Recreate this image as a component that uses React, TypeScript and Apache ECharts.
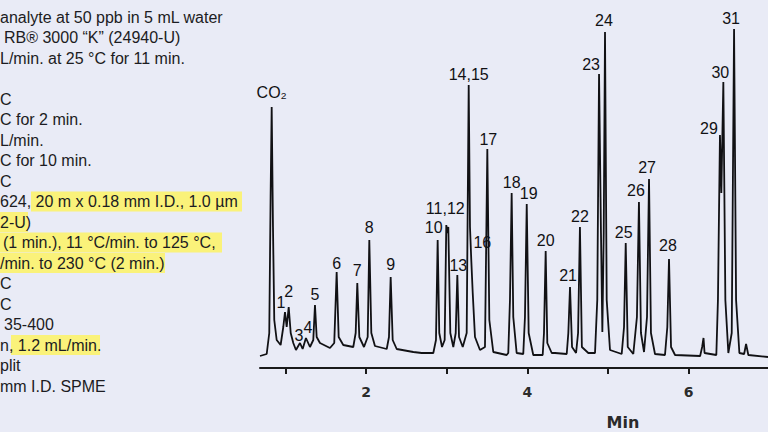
import React, { useEffect, useRef } from "react";
import * as echarts from "echarts";

// ---- Data (time in min, detector signal in arbitrary units) ----
const traceTimes = [
  0.684, 0.767, 0.799, 0.816, 0.829, 0.845, 0.861, 0.891, 0.94, 0.973, 0.994, 1.015, 1.04, 1.065, 1.097, 1.13,
  1.18, 1.213, 1.254, 1.304, 1.345, 1.366, 1.387, 1.428, 1.552, 1.605, 1.635, 1.66, 1.717, 1.841, 1.871, 1.891,
  1.916, 1.974, 2.02, 2.04, 2.065, 2.11, 2.256, 2.284, 2.305, 2.33, 2.38, 2.586, 2.69, 2.834, 2.867, 2.888,
  2.908, 2.942, 2.975, 2.995, 3.007, 3.02, 3.045, 3.082, 3.112, 3.132, 3.153, 3.199, 3.248, 3.273, 3.289, 3.305,
  3.323, 3.351, 3.413, 3.475, 3.504, 3.529, 3.578, 3.744, 3.764, 3.785, 3.806, 3.826, 3.868, 3.95, 3.971, 3.993,
  4.017, 4.074, 4.191, 4.207, 4.228, 4.248, 4.303, 4.344, 4.489, 4.509, 4.53, 4.555, 4.605, 4.63, 4.653, 4.677,
  4.757, 4.84, 4.868, 4.89, 4.914, 4.931, 4.948, 4.964, 4.985, 5.026, 5.171, 5.2, 5.221, 5.246, 5.315, 5.36,
  5.385, 5.41, 5.448, 5.485, 5.51, 5.534, 5.584, 5.708, 5.737, 5.758, 5.783, 5.833, 6.144, 6.169, 6.186, 6.199,
  6.345, 6.365, 6.39, 6.407, 6.432, 6.457, 6.494, 6.536, 6.565, 6.59, 6.631, 6.69, 6.714, 6.742, 6.986,
];
const traceSignals = [
  12, 14, 35, 175, 261, 141, 48, 28, 23, 41, 56, 41, 61, 35, 25, 18,
  25, 19, 30, 21, 28, 63, 31, 25, 20, 25, 96, 31, 23, 21, 35, 85,
  31, 21, 31, 128, 35, 22, 19, 31, 91, 28, 19, 16, 15, 15, 28, 128,
  35, 21, 28, 143, 135, 141, 35, 21, 35, 93, 31, 21, 35, 283, 141, 108,
  75, 31, 18, 21, 219, 48, 16, 13, 15, 68, 175, 51, 15, 14, 51, 164,
  35, 13, 13, 35, 117, 25, 15, 15, 14, 35, 81, 21, 15, 35, 141, 21,
  15, 15, 68, 294, 135, 36, 135, 336, 68, 18, 14, 41, 125, 21, 14, 51,
  166, 35, 16, 51, 189, 35, 14, 13, 41, 109, 21, 13, 12, 21, 30, 15,
  13, 68, 233, 175, 286, 68, 15, 35, 339, 68, 15, 14, 24, 13, 11,
];

const peakNames = [
  "CO₂", "1", "2", "3", "4", "5", "6", "7", "8", "9", "10", "11,12", "13", "14,15", "16", "17",
  "18", "19", "20", "21", "22", "23", "24", "25", "26", "27", "28", "29", "30", "31",
];
const peakTimes = [
  0.829, 0.994, 1.04, 1.18, 1.254, 1.366, 1.635, 1.891, 2.04, 2.305, 2.888, 2.995, 3.132, 3.273, 3.305, 3.504,
  3.806, 3.993, 4.228, 4.53, 4.653, 4.89, 4.964, 5.221, 5.385, 5.51, 5.758, 6.39, 6.432, 6.565,
];
const peakHeights = [
  261, 56, 61, 25, 30, 63, 96, 85, 128, 91, 128, 143, 93, 283, 108, 219,
  175, 164, 117, 81, 141, 294, 336, 125, 166, 189, 109, 233, 286, 339,
];

const xTickValues = [1, 2, 3, 4, 5, 6];
const xLabelValues = [2, 4, 6];
const xAxisTitle = "Min";

const conditionLines = [
  "analyte at 50 ppb in 5 mL water",
  "RB® 3000 “K” (24940-U)",
  "L/min. at 25 °C for 11 min.",
  "",
  "C",
  "C for 2 min.",
  "L/min.",
  "C for 10 min.",
  "C",
  "624, 20 m x 0.18 mm I.D., 1.0 µm",
  "2-U)",
  "(1 min.), 11 °C/min. to 125 °C,",
  "/min. to 230 °C (2 min.)",
  "C",
  "C",
  "35-400",
  "n, 1.2 mL/min.",
  "plit",
  "mm I.D. SPME",
];

// ---- Styling / layout ----
const BG = "#E9EBF6";
const HIGHLIGHT = "#FAF27A";
const FONT = '"Liberation Sans", Arial, Helvetica, sans-serif';
const AXFONT = '"DejaVu Sans", Verdana, sans-serif';
const INK = "#111114";
const lineX = [0, 4, 0, 0, 0, 0, 0, 0, 0, 0, 0, 3, 0, 0, 0, 4, 0, 0, 0];
const highlightSpans: [number, number, number][] = [
  // [line index, x0, x1]
  [9, 31, 242],
  [10, 0, 28],
  [11, 0, 222],
  [12, 0, 165],
  [16, 11, 100],
];
const labelOffsets: Record<string, [number, number]> = {
  "CO₂": [0, -4], "1": [-4, 1], "2": [0, -5], "3": [-1, 3], "4": [2, 0], "5": [0, 0], "6": [0, 2],
  "7": [0, -2], "8": [0, -2], "9": [0, -2], "10": [-4, -2], "11,12": [-1, -6], "13": [1, 1],
  "14,15": [0, 0], "16": [11, -7], "17": [1, 1], "18": [0, 0], "19": [2, 0], "20": [0, 0],
  "21": [-2, -1], "22": [0, 0], "23": [-8, 1], "24": [-1, -1], "25": [-2, 0], "26": [-3, -1],
  "27": [-2, -1], "28": [-1, -3], "29": [-11, 4], "30": [-3, 1], "31": [-3, 0],
};
const lineY = (i: number) => 17 + 20.5 * i;

export default function App() {
  const ref = useRef<HTMLDivElement>(null);
  useEffect(() => {
    if (!ref.current) return;
    const chart = echarts.init(ref.current, undefined, { renderer: "svg" });

    const traceData = traceTimes.map((t, i) => [t, traceSignals[i]]);
    const labelData = peakNames.map((n, i) => ({
      name: n,
      value: [peakTimes[i], peakHeights[i]],
      label: { offset: labelOffsets[n] || [0, 0] },
    }));

    const graphics: any[] = [];
    highlightSpans.forEach(([li, x0, x1]) => {
      graphics.push({
        type: "rect",
        z: 1,
        shape: { x: x0, y: lineY(li) - 10, width: x1 - x0, height: 20 },
        style: { fill: HIGHLIGHT },
      });
    });
    conditionLines.forEach((txt, i) => {
      if (!txt) return;
      graphics.push({
        type: "text",
        z: 2,
        x: lineX[i],
        y: lineY(i),
        style: {
          text: txt,
          fontSize: 16,
          fontFamily: FONT,
          fill: "#1c1c22",
          verticalAlign: "middle",
          align: "left",
        },
      });
    });
    graphics.push({
      type: "text",
      z: 2,
      x: 623,
      y: 422,
      style: {
        text: xAxisTitle,
        fontSize: 16,
        fontWeight: "bold",
        fontFamily: AXFONT,
        fill: "#2a2a2a",
        align: "center",
        verticalAlign: "middle",
      },
    });

    chart.setOption({
      animation: false,
      backgroundColor: BG,
      grid: { left: 260, right: 0, top: 20, bottom: 64 },
      xAxis: {
        type: "value",
        min: 0.684,
        max: 6.986,
        z: 6,
        axisLine: { show: true, onZero: false, lineStyle: { color: "#1a1a1a", width: 2 } },
        axisTick: { show: true, customValues: xTickValues, length: 6, lineStyle: { color: "#1a1a1a", width: 2 } },
        axisLabel: {
          customValues: xLabelValues,
          margin: 17,
          fontSize: 14,
          fontWeight: "bold",
          fontFamily: AXFONT,
          color: "#2b2b2b",
          formatter: (v: number) => String(Math.round(v)),
        },
        splitLine: { show: false },
      },
      yAxis: { type: "value", min: 0, max: 348, show: false },
      graphic: graphics,
      series: [
        {
          type: "line",
          data: traceData,
          showSymbol: false,
          symbol: "none",
          lineStyle: { color: INK, width: 1.8 },
          z: 3,
        },
        {
          type: "scatter",
          data: labelData,
          symbolSize: 0,
          silent: true,
          z: 4,
          itemStyle: { opacity: 1 },
          label: {
            show: true,
            position: "top",
            distance: 3,
            opacity: 1,
            formatter: (p: any) => p.name,
            fontSize: 16,
            fontFamily: FONT,
            color: INK,
          },
        },
      ],
    });
    return () => chart.dispose();
  }, []);
  return (
    <div
      ref={ref}
      style={{ position: "fixed", left: 0, top: 0, width: 768, height: 432, background: BG }}
    />
  );
}
